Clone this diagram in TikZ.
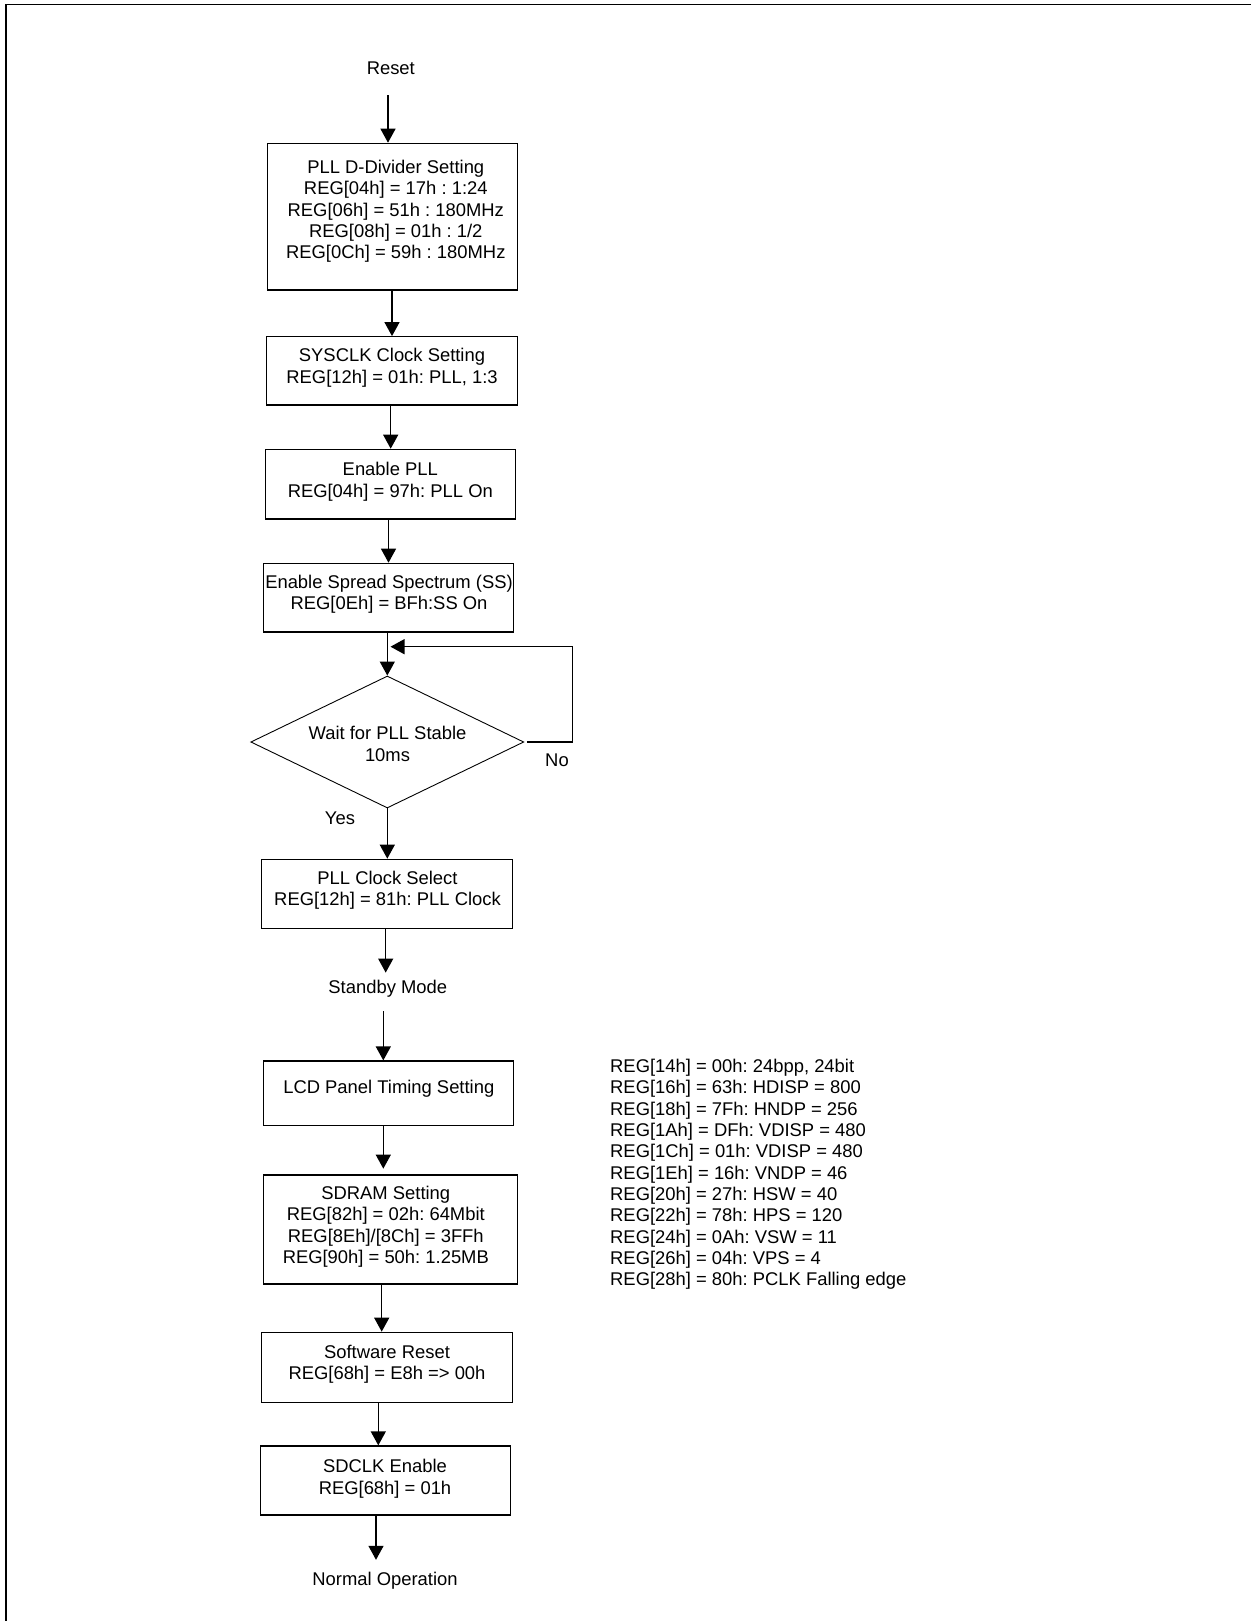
\documentclass[tikz,border=0pt]{standalone}
\usepackage{fontspec}
\setmainfont{Liberation Sans}
\usetikzlibrary{arrows.meta,shapes.geometric,calc}
\frenchspacing
\begin{document}
\begin{tikzpicture}[x=1pt,y=-1pt,
  font=\fontsize{18.4}{21.3}\selectfont\frenchspacing,
  box/.style={draw, line width=1.3pt, inner sep=0pt},
  txt/.style={inner sep=0pt, align=center},
  lbl/.style={inner sep=0pt, text height=13.2pt, text depth=0pt},
  arr/.style={line width=1.3pt, -{Triangle[length=14pt,width=15pt]}},
  dec/.style={draw, diamond, aspect=2.068, line width=0.9pt, inner sep=0pt, minimum width=273pt, minimum height=132pt}]
\useasboundingbox (0,0) rectangle (1251,1621);
\draw[line width=1.5pt] (6,1621) -- (6,4.5) -- (1251,4.5);

% nodes
\node[lbl] (reset) at (390.8,68.2) {Reset};
\node[box, minimum width=250pt, minimum height=146.7pt] (b1) at (392.3,216.7) {};
\node[txt] (t1) at (395.8,211.4) {PLL D-Divider Setting\\REG[04h] = 17h : 1:24\\REG[06h] = 51h : 180MHz\\REG[08h] = 01h : 1/2\\REG[0Ch] = 59h : 180MHz};

\node[box, minimum width=250.6pt, minimum height=68.3pt] (b2) at (392,370.9) {};
\node[txt] (t2) at (392,367.7) {SYSCLK Clock Setting\\REG[12h] = 01h: PLL, 1:3};

\node[box, minimum width=250pt, minimum height=69.7pt] (b3) at (390.7,484.2) {};
\node[txt] (t3) at (390.3,481.6) {Enable PLL\\REG[04h] = 97h: PLL On};

\node[box, minimum width=249.6pt, minimum height=68.7pt] (b4) at (388.5,597.7) {};
\node[txt] (t4) at (389,594.4) {Enable Spread Spectrum (SS)\\REG[0Eh] = BFh:SS On};

\node[dec] (dia) at (387.3,742) {};
\node[txt] (dt) at (387.5,744) {Wait for PLL Stable\\10ms};
\node[lbl] (yes) at (340,818) {Yes};
\node[lbl] (no) at (557,760) {No};
\coordinate (loopend) at (390.5,646.7);

\node[box, minimum width=251.4pt, minimum height=69pt] (b5) at (387,893.8) {};
\node[txt] (t5) at (387.5,890.4) {PLL Clock Select\\REG[12h] = 81h: PLL Clock};

\node[lbl] (sb) at (387.8,986.7) {Standby Mode};

\node[box, minimum width=250pt, minimum height=64.7pt] (b6) at (388.3,1093.4) {};
\node[txt] (t6) at (388.8,1089.2) {LCD Panel Timing Setting};

\node[box, minimum width=254pt, minimum height=109pt] (b7) at (390.3,1229.5) {};
\node[txt] (t7) at (385.8,1226.6) {SDRAM Setting\\REG[82h] = 02h: 64Mbit\\REG[8Eh]/[8Ch] = 3FFh\\REG[90h] = 50h: 1.25MB};

\node[box, minimum width=251.4pt, minimum height=70pt] (b8) at (387,1367.3) {};
\node[txt] (t8) at (387,1363.9) {Software Reset\\REG[68h] = E8h => 00h};

\node[box, minimum width=250pt, minimum height=69pt] (b9) at (385.7,1480.5) {};
\node[txt] (t9) at (385,1478.6) {SDCLK Enable\\REG[68h] = 01h};

\node[lbl] (norm) at (385,1579) {Normal Operation};

\node[inner sep=0pt, align=left, anchor=west] (regs) at (610,1174.4) {REG[14h] = 00h: 24bpp, 24bit\\REG[16h] = 63h: HDISP = 800\\REG[18h] = 7Fh: HNDP = 256\\REG[1Ah] = DFh: VDISP = 480\\REG[1Ch] = 01h: VDISP = 480\\REG[1Eh] = 16h: VNDP = 46\\REG[20h] = 27h: HSW = 40\\REG[22h] = 78h: HPS = 120\\REG[24h] = 0Ah: VSW = 11\\REG[26h] = 04h: VPS = 4\\REG[28h] = 80h: PCLK Falling edge};

% connectors
\draw[arr] ($(reset.south)+(-2.8,20.2)$) -- ($(reset.south |- b1.north)+(-2.8,0)$);
\draw[arr] (b1.south -| b2.north) -- (b2.north);
\draw[arr] (b2.south -| b3.north) -- (b3.north);
\draw[arr] (b3.south -| b4.north) -- (b4.north);
\draw[arr] (b4.south -| dia.north) -- (dia.north);
\draw[arr] (dia.south) -- (dia.south |- b5.north);
\draw[arr] ($(dia.east)+(2.5,0)$) -- ++(45.5,0) |- (loopend);
\draw[arr] ($(b5.south)+(-1.3,0)$) -- ($(b5.south |- sb.north)+(-1.3,-7.3)$);
\draw[arr] ($(sb.south)+(-4.5,17.7)$) -- ($(sb.south |- b6.north)+(-4.5,0)$);
\draw[arr] ($(b6.south)+(-5,0)$) -- ($(b6.south |- b7.north)+(-5,-5.7)$);
\draw[arr] ($(b7.south)+(-8.6,0)$) -- ($(b7.south |- b8.north)+(-8.6,0)$);
\draw[arr] ($(b8.south)+(-8.7,0)$) -- ($(b8.south |- b9.north)+(-8.7,0)$);
\draw[arr] ($(b9.south)+(-9.7,0)$) -- ($(b9.south |- norm.north)+(-9.7,-12.4)$);
\end{tikzpicture}
\end{document}
